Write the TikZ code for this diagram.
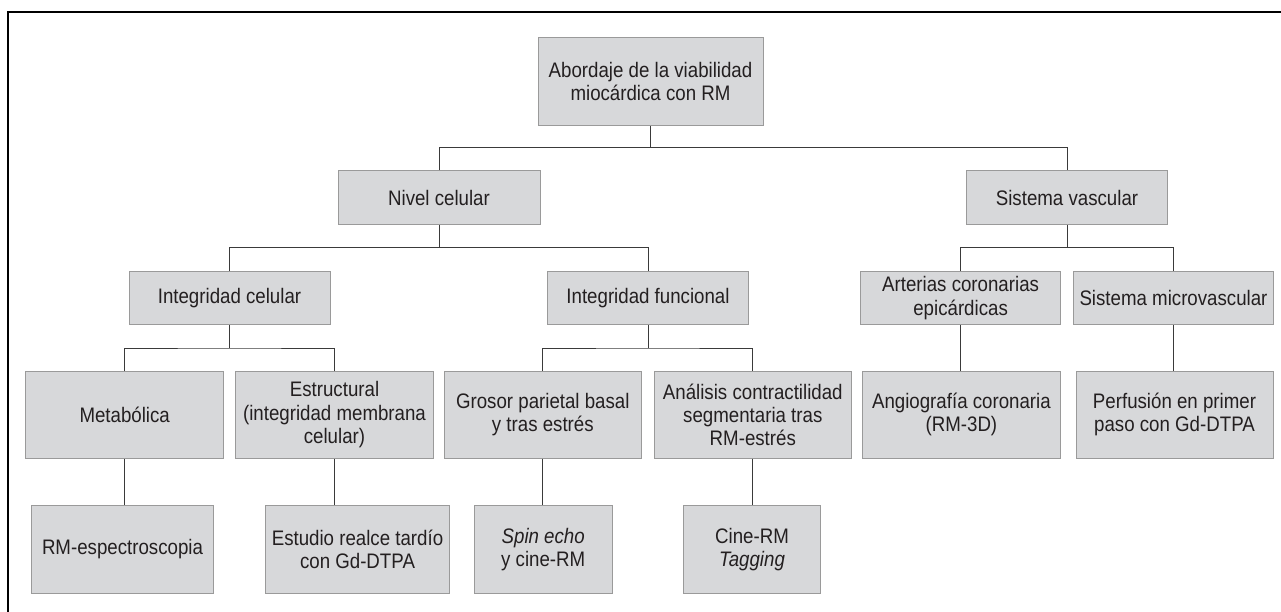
\documentclass[tikz,border=0pt]{standalone}
\usepackage{fontspec}
\setmainfont{Liberation Sans}[FakeStretch=0.89]
\definecolor{boxfill}{HTML}{D7D8DA}
\definecolor{boxline}{HTML}{9A9A9A}
\definecolor{conn}{HTML}{3A3A3A}
\definecolor{txt}{HTML}{231F20}
\tikzset{
  box/.style={rectangle, draw=boxline, fill=boxfill, line width=1pt, align=center, inner sep=0pt, text=txt,
    font=\fontsize{21}{23.3}\selectfont},
  conline/.style={draw=conn, line width=1pt},
  frameline/.style={draw=black, line width=1.4pt}
}
\begin{document}
\begin{tikzpicture}[x=1pt,y=-1pt]
\useasboundingbox (0,0) rectangle (1281,612);
\draw[frameline] (8,612) -- (8,12) -- (1281,12);

% level 0
\node[box, minimum width=225pt, minimum height=88.5pt] (t) at (650.5,81.3) {Abordaje de la viabilidad\\miocárdica con RM};
% level 1
\node[box, minimum width=202pt, minimum height=54pt] (nc) at (439,198) {Nivel celular};
\node[box, minimum width=201.5pt, minimum height=54pt] (sv) at (1067,198) {Sistema vascular};
% level 2
\node[box, minimum width=201pt, minimum height=53.5pt] (ic) at (229.5,298) {Integridad celular};
\node[box, minimum width=201pt, minimum height=53.5pt] (ifn) at (648,298) {Integridad funcional};
\node[box, minimum width=200.4pt, minimum height=53.5pt] (ac) at (960.6,298) {Arterias coronarias\\epicárdicas};
\node[box, minimum width=200pt, minimum height=53.5pt] (mv) at (1173.5,298) {Sistema microvascular};
% level 3
\node[box, minimum width=198pt, minimum height=87.3pt] (me) at (124.7,414.7) {Metabólica};
\node[box, minimum width=198pt, minimum height=87.3pt] (es) at (334.5,414.7) {Estructural\\(integridad membrana\\celular)};
\node[box, minimum width=196.5pt, minimum height=87.3pt] (gr) at (542.8,414.7) {Grosor parietal basal\\y tras estrés};
\node[box, minimum width=197pt, minimum height=87.3pt] (an) at (752.8,414.7) {Análisis contractilidad\\segmentaria tras\\RM-estrés};
\node[box, minimum width=198pt, minimum height=87.3pt] (ag) at (961.4,414.7) {Angiografía coronaria\\(RM-3D)};
\node[box, minimum width=197pt, minimum height=87.3pt] (pe) at (1174.5,414.7) {Perfusión en primer\\paso con Gd-DTPA};
% level 4
\node[box, minimum width=182pt, minimum height=87.6pt] (rs) at (122.5,549.5) {RM-espectroscopia};
\node[box, minimum width=184.5pt, minimum height=87.6pt] (er) at (357.5,549.5) {Estudio realce tardío\\con Gd-DTPA};
\node[box, minimum width=138pt, minimum height=87.6pt] (se) at (543.2,549.5) {\textit{Spin echo}\\y cine-RM};
\node[box, minimum width=136.7pt, minimum height=87.6pt] (cr) at (752,549.5) {Cine-RM\\\textit{Tagging}};

% bus coordinates
\coordinate (b1) at (650,147.7);
\coordinate (b2) at (439,247.5);
\coordinate (b3) at (1067,247.5);
\coordinate (b4) at (229.5,348);
\coordinate (b5) at (648,348);

% connectors
\draw[conline] (t.south -| b1) -- (b1);
\draw[conline] (nc.north) |- (b1) -| (sv.north);
\draw[conline] (nc.south) -- (b2);
\draw[conline] (ic.north) |- (b2) -| (ifn.north);
\draw[conline] (sv.south) -- (b3);
\draw[conline] (ac.north) |- (b3) -| (mv.north);
\draw[conline] (ic.south) -- (b4);
\draw[conline] (me.north) |- (b4) -| (es.north);
\draw[conline] (ifn.south) -- (b5);
\draw[conline] (gr.north) |- (b5) -| (an.north);
\draw[conline] (ac.south) -- (ac.south |- ag.north);
\draw[conline] (mv.south) -- (mv.south |- pe.north);
\draw[conline] (me.south) -- (me.south |- rs.north);
\draw[conline] (es.south) -- (es.south |- er.north);
\draw[conline] (gr.south) -- (gr.south |- se.north);
\draw[conline] (an.south) -- (an.south |- cr.north);
\end{tikzpicture}
\end{document}
